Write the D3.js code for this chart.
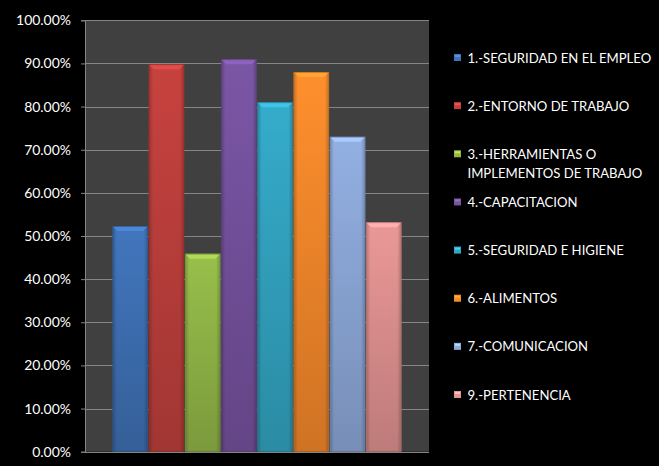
<!DOCTYPE html>
<html>
<head>
<meta charset="utf-8">
<script src="https://cdn.jsdelivr.net/npm/d3@7"></script>
<style>
  html, body { margin: 0; padding: 0; background: #000; }
  svg { display: block; }
  text { font-family: Lato, "Open Sans", sans-serif; fill: #ffffff; }
</style>
</head>
<body>
<script>
// ---- data ----
const categories = [
  "1.-SEGURIDAD EN EL EMPLEO",
  "2.-ENTORNO DE TRABAJO",
  "3.-HERRAMIENTAS O IMPLEMENTOS DE TRABAJO",
  "4.-CAPACITACION",
  "5.-SEGURIDAD E HIGIENE",
  "6.-ALIMENTOS",
  "7.-COMUNICACION",
  "9.-PERTENENCIA"
];
const legendLines = [
  ["1.-SEGURIDAD EN EL EMPLEO"],
  ["2.-ENTORNO DE TRABAJO"],
  ["3.-HERRAMIENTAS O", "IMPLEMENTOS DE TRABAJO"],
  ["4.-CAPACITACION"],
  ["5.-SEGURIDAD E HIGIENE"],
  ["6.-ALIMENTOS"],
  ["7.-COMUNICACION"],
  ["9.-PERTENENCIA"]
];
const values = [0.523, 0.898, 0.459, 0.910, 0.810, 0.880, 0.730, 0.532];
const tickValues = [0, 0.1, 0.2, 0.3, 0.4, 0.5, 0.6, 0.7, 0.8, 0.9, 1.0];

// ---- styles ----
const colors = ["#3f72b6", "#c0403d", "#93b848", "#7753a0", "#33a6c4", "#f88a2b", "#8eaadb", "#e29392"];

const W = 659, H = 466;
const plot = { left: 85, right: 429, top: 20.3, bottom: 451.7 };

const svg = d3.select("body").append("svg").attr("width", W).attr("height", H);
svg.append("rect").attr("width", W).attr("height", H).attr("fill", "#000");

const defs = svg.append("defs");
colors.forEach((c, i) => {
  const g = defs.append("linearGradient").attr("id", "v" + i)
    .attr("x1", 0).attr("y1", 0).attr("x2", 0).attr("y2", 1);
  g.append("stop").attr("offset", "0%").attr("stop-color", d3.color(c).brighter(0.1));
  g.append("stop").attr("offset", "100%").attr("stop-color", d3.color(c).darker(0.5));
});
const hg = defs.append("linearGradient").attr("id", "hshade")
  .attr("x1", 0).attr("y1", 0).attr("x2", 1).attr("y2", 0);
hg.append("stop").attr("offset", "0%").attr("stop-color", "#000").attr("stop-opacity", 0.22);
hg.append("stop").attr("offset", "12%").attr("stop-color", "#000").attr("stop-opacity", 0.0);
hg.append("stop").attr("offset", "88%").attr("stop-color", "#000").attr("stop-opacity", 0.0);
hg.append("stop").attr("offset", "100%").attr("stop-color", "#000").attr("stop-opacity", 0.22);

// plot area
svg.append("rect")
  .attr("x", plot.left).attr("y", plot.top)
  .attr("width", plot.right - plot.left).attr("height", plot.bottom - plot.top)
  .attr("fill", "#404040");

const y = d3.scaleLinear().domain([0, 1]).range([plot.bottom, plot.top]);
const x = d3.scaleBand().domain(categories).range([plot.left, plot.right])
  .paddingInner(0.02).paddingOuter(0.76);

// gridlines
svg.append("g").selectAll("line").data(tickValues).join("line")
  .attr("x1", plot.left).attr("x2", plot.right)
  .attr("y1", d => Math.round(y(d)) + 0.5).attr("y2", d => Math.round(y(d)) + 0.5)
  .attr("stroke", "#858585").attr("stroke-width", 1);

// y axis
const yAxis = d3.axisLeft(y).tickValues(tickValues).tickFormat(d3.format(".2%"))
  .tickSize(4).tickPadding(10);
const ag = svg.append("g").attr("transform", `translate(${plot.left},0)`).call(yAxis);
ag.select(".domain").attr("stroke", "#858585");
ag.selectAll(".tick line").attr("stroke", "#858585");
ag.selectAll(".tick text").attr("fill", "#ffffff").style("font-family", "Lato, sans-serif");

// fit tick font to target width
(function () {
  const t = ag.selectAll(".tick text").filter(d => d === 1);
  t.style("font-size", "14px");
  const w = t.node().getComputedTextLength();
  const fs = 14 * 55 / w;
  ag.selectAll(".tick text").style("font-size", fs + "px");
})();

// bars
const bars = svg.append("g").selectAll("g").data(values).join("g");
const bw = x.bandwidth();
bars.append("rect")
  .attr("x", (d, i) => x(categories[i]))
  .attr("y", d => y(d))
  .attr("width", bw)
  .attr("height", d => y(0) - y(d))
  .attr("fill", (d, i) => `url(#v${i})`);
bars.append("rect")
  .attr("x", (d, i) => x(categories[i]))
  .attr("y", d => y(d))
  .attr("width", bw)
  .attr("height", d => y(0) - y(d))
  .attr("fill", "url(#hshade)");
bars.append("rect")
  .attr("x", (d, i) => x(categories[i]) + 0.5)
  .attr("y", d => y(d) + 0.5)
  .attr("width", bw - 1)
  .attr("height", d => y(0) - y(d) - 1)
  .attr("fill", "none")
  .attr("stroke", (d, i) => d3.color(colors[i]).darker(0.7))
  .attr("stroke-opacity", 0.6);
// top bevel
bars.append("path")
  .attr("d", (d, i) => {
    const x0 = x(categories[i]) + 1, x1 = x0 + bw - 2, t = y(d) + 1, b = t + 4;
    return `M${x0},${t}L${x1},${t}L${x1 - 4},${b}L${x0 + 4},${b}Z`;
  })
  .attr("fill", (d, i) => d3.color(colors[i]).brighter(0.5));

// legend
const legend = svg.append("g");
const ly = d3.scaleLinear().domain([0, 7]).range([58, 395]);
const items = legend.selectAll("g").data(legendLines).join("g")
  .attr("transform", (d, i) => `translate(0,${ly(i)})`);
items.append("rect")
  .attr("x", 454).attr("y", -4).attr("width", 7).attr("height", 7)
  .attr("fill", (d, i) => colors[i]);
items.append("rect")
  .attr("x", 455).attr("y", -3).attr("width", 5).attr("height", 2)
  .attr("fill", (d, i) => d3.color(colors[i]).brighter(0.7));
const texts = items.append("text")
  .attr("x", 467.5).attr("y", 0)
  .style("font-size", "14px");
texts.selectAll("tspan").data(d => d).join("tspan")
  .attr("x", 467.5)
  .attr("dy", (d, j) => j === 0 ? "0.35em" : "19px")
  .text(d => d);
// fit legend font to target width
(function () {
  const n = texts.filter((d, i) => i === 0).node();
  const w = n.getComputedTextLength();
  const fs = 14 * 184 / w;
  texts.style("font-size", fs + "px");
})();
</script>
</body>
</html>
